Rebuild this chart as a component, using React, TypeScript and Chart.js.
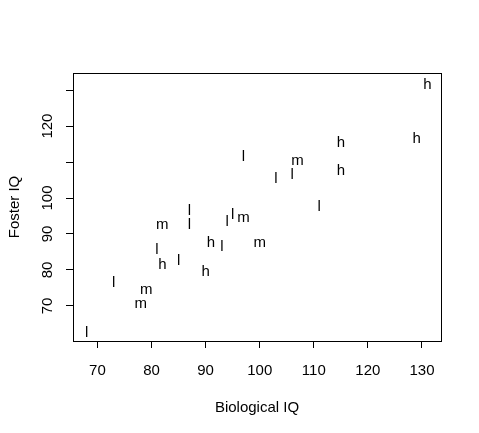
import React, { useEffect, useRef } from "react";
import { Chart, registerables } from "chart.js";

Chart.register(...registerables);

// Biological IQ (x) and Foster IQ (y) by social class
const highBiological = [131, 129, 115, 115, 82, 90, 91];
const highFoster = [132, 117, 116, 108, 82, 80, 88];
const middleBiological = [78, 79, 82, 97, 100, 107];
const middleFoster = [71, 75, 93, 95, 88, 111];
const lowBiological = [68, 73, 81, 85, 87, 87, 93, 94, 95, 97, 103, 106, 111];
const lowFoster = [63, 77, 86, 83, 93, 97, 87, 94, 96, 112, 106, 107, 98];
const classLetters = ["h", "m", "l"];

const xTicks = [70, 80, 90, 100, 110, 120, 130];
const xTickLabels = ["70", "80", "90", "100", "110", "120", "130"];
const yTicks = [70, 80, 90, 100, 110, 120, 130];
const yTickLabels = ["70", "80", "90", "100", "", "120", ""];
const xTitle = "Biological IQ";
const yTitle = "Foster IQ";

const FONT = '"Liberation Sans", Arial, Helvetica, sans-serif';

const toPoints = (xs: number[], ys: number[]) => xs.map((x, i) => ({ x, y: ys[i] }));

const rStylePlugin = {
  id: "rStyle",
  afterDatasetsDraw(chart: any) {
    const ctx = chart.ctx;
    ctx.save();
    ctx.fillStyle = "#000";
    ctx.font = `15px ${FONT}`;
    ctx.textAlign = "center";
    ctx.textBaseline = "middle";
    chart.data.datasets.forEach((ds: any, di: number) => {
      const meta = chart.getDatasetMeta(di);
      meta.data.forEach((el: any) => {
        ctx.fillText(ds.letter, el.x, el.y + 2);
      });
    });
    ctx.restore();
  },
  afterDraw(chart: any) {
    const ctx = chart.ctx;
    const a = chart.chartArea;
    const xs = chart.scales.x;
    const ys = chart.scales.y;
    ctx.save();
    ctx.strokeStyle = "#000";
    ctx.lineWidth = 1;
    ctx.strokeRect(a.left + 0.5, a.top + 0.5, a.right - a.left, a.bottom - a.top);
    ctx.fillStyle = "#000";
    ctx.font = `15px ${FONT}`;
    ctx.textAlign = "center";
    ctx.textBaseline = "middle";
    xTicks.forEach((v, i) => {
      ctx.fillText(xTickLabels[i], xs.getPixelForValue(v), a.bottom + 30);
    });
    yTicks.forEach((v, i) => {
      if (!yTickLabels[i]) return;
      ctx.save();
      ctx.translate(a.left - 25, ys.getPixelForValue(v));
      ctx.rotate(-Math.PI / 2);
      ctx.fillText(yTickLabels[i], 0, 0);
      ctx.restore();
    });
    ctx.fillText(xTitle, (a.left + a.right) / 2, a.bottom + 67);
    ctx.save();
    ctx.translate(15, (a.top + a.bottom) / 2);
    ctx.rotate(-Math.PI / 2);
    ctx.fillText(yTitle, 0, 0);
    ctx.restore();
    ctx.restore();
  },
};

export default function App() {
  const ref = useRef<HTMLCanvasElement | null>(null);
  useEffect(() => {
    if (!ref.current) return;
    const series = [
      toPoints(highBiological, highFoster),
      toPoints(middleBiological, middleFoster),
      toPoints(lowBiological, lowFoster),
    ];
    const chart = new Chart(ref.current, {
      type: "scatter",
      data: {
        datasets: series.map((data, i) => ({
          label: classLetters[i],
          letter: classLetters[i],
          data,
          pointRadius: 0,
          pointHoverRadius: 0,
        })) as any,
      },
      options: {
        responsive: false,
        animation: false,
        events: [],
        layout: { padding: { top: 73, right: 38, left: 0, bottom: 0 } },
        plugins: { legend: { display: false }, tooltip: { enabled: false } },
        scales: {
          x: {
            type: "linear",
            position: "bottom",
            min: 65.48,
            max: 133.52,
            afterBuildTicks: (s: any) => {
              s.ticks = xTicks.map((value) => ({ value }));
            },
            afterFit: (s: any) => {
              s.height = 92;
            },
            ticks: { display: false },
            border: { display: false },
            grid: { drawOnChartArea: false, drawTicks: true, tickLength: 7, color: "#000", lineWidth: 1 },
          },
          y: {
            type: "linear",
            position: "left",
            min: 60.24,
            max: 134.76,
            afterBuildTicks: (s: any) => {
              s.ticks = yTicks.map((value) => ({ value }));
            },
            afterFit: (s: any) => {
              s.width = 73;
            },
            ticks: { display: false },
            border: { display: false },
            grid: { drawOnChartArea: false, drawTicks: true, tickLength: 7, color: "#000", lineWidth: 1 },
          },
        },
      },
      plugins: [rStylePlugin],
    });
    return () => chart.destroy();
  }, []);
  return (
    <div style={{ position: "fixed", left: 0, top: 0, width: 479, height: 433, background: "#fff" }}>
      <canvas ref={ref} width={479} height={433} style={{ display: "block" }} />
    </div>
  );
}
